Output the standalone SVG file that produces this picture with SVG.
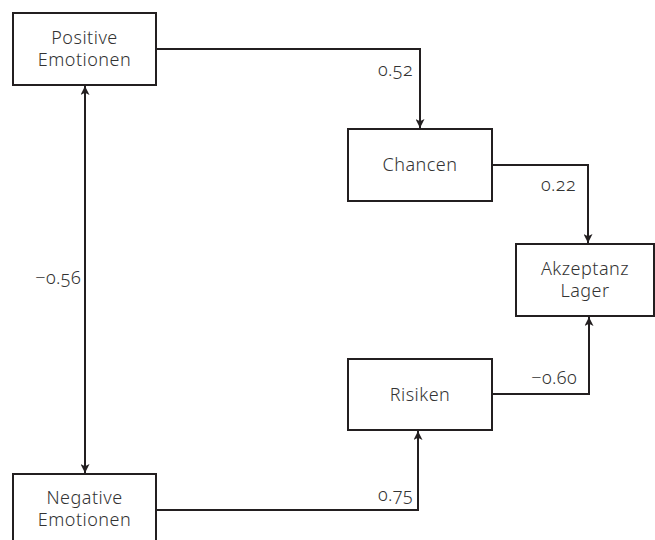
<svg xmlns="http://www.w3.org/2000/svg" width="655" height="540" viewBox="0 0 655 540">
  <style>
    .box { fill: #fff; stroke: #231f20; stroke-width: 2; }
    .lbl { font-family: "Noto Sans", "Open Sans", "DejaVu Sans", sans-serif; font-size: 18px; font-weight: 300; letter-spacing: 0.5px; fill: #333; text-anchor: middle; }
    .num { font-family: "Noto Sans", "Open Sans", "DejaVu Sans", sans-serif; font-size: 18px; font-weight: 300; letter-spacing: 0.4px; fill: #333; text-anchor: end; font-variant-numeric: oldstyle-nums; }
    .edge { fill: none; stroke: #231f20; stroke-width: 2; }
  </style>
  <defs>
    <marker id="head" viewBox="0 0 10 10" refX="10" refY="5" markerWidth="9" markerHeight="9" markerUnits="userSpaceOnUse" orient="auto-start-reverse">
      <path d="M0,0 L10,5 L0,10 L2.5,5 Z" fill="#231f20"/>
    </marker>
  </defs>

  <g id="connectors">
    <path class="edge" d="M156,49 H420 V128" marker-end="url(#head)"/>
    <path class="edge" d="M492,165 H588 V243" marker-end="url(#head)"/>
    <path class="edge" d="M492,394 H589 V317" marker-end="url(#head)"/>
    <path class="edge" d="M156,510 H418 V431" marker-end="url(#head)"/>
    <path class="edge" d="M85,86 V473" marker-start="url(#head)" marker-end="url(#head)"/>
    <text class="num" x="413" y="76">0.52</text>
    <text class="num" x="576" y="191">0.22</text>
    <text class="num" x="577" y="384">−0.60</text>
    <text class="num" x="413" y="501">0.75</text>
    <text class="num" x="81" y="284">−0.56</text>
  </g>

  <g id="positive-emotionen">
    <rect class="box" x="13" y="13" width="143" height="72"/>
    <text class="lbl" x="84.5" y="44">Positive</text>
    <text class="lbl" x="84.5" y="66">Emotionen</text>
  </g>

  <g id="chancen">
    <rect class="box" x="348" y="129" width="144" height="72"/>
    <text class="lbl" x="420" y="171">Chancen</text>
  </g>

  <g id="akzeptanz-lager">
    <rect class="box" x="516" y="244" width="138" height="72"/>
    <text class="lbl" x="585" y="275">Akzeptanz</text>
    <text class="lbl" x="585" y="297">Lager</text>
  </g>

  <g id="risiken">
    <rect class="box" x="348" y="359" width="144" height="71"/>
    <text class="lbl" x="420" y="401">Risiken</text>
  </g>

  <g id="negative-emotionen">
    <rect class="box" x="13" y="474" width="143" height="72"/>
    <text class="lbl" x="84.5" y="504">Negative</text>
    <text class="lbl" x="84.5" y="526">Emotionen</text>
  </g>
</svg>
